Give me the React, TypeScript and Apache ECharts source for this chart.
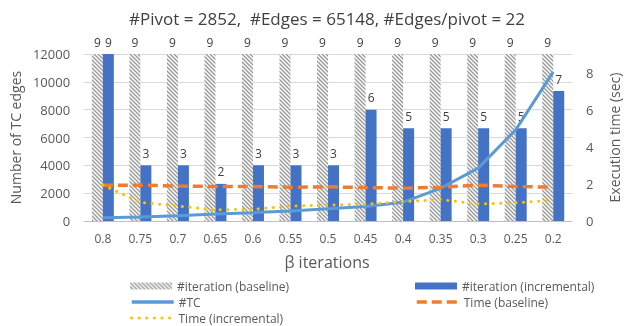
import React, { useEffect, useRef } from 'react';
import * as echarts from 'echarts';

const categories = ['0.8', '0.75', '0.7', '0.65', '0.6', '0.55', '0.5', '0.45', '0.4', '0.35', '0.3', '0.25', '0.2'];
const iterBaseline = [9, 9, 9, 9, 9, 9, 9, 9, 9, 9, 9, 9, 9];
const iterIncremental = [9, 3, 3, 2, 3, 3, 3, 6, 5, 5, 5, 5, 7];
const tcEdges = [240, 290, 380, 500, 600, 720, 880, 1050, 1350, 2350, 3800, 6550, 10720];
const timeBaseline = [1.93, 1.93, 1.88, 1.86, 1.86, 1.82, 1.84, 1.8, 1.77, 1.82, 1.93, 1.86, 1.82];
const timeIncremental = [1.95, 1.0, 0.8, 0.6, 0.63, 0.8, 0.86, 0.91, 1.04, 1.16, 0.91, 0.98, 1.12];
const leftTicks = [0, 12000, 2000];
const rightTicks = [0, 9, 2];

const TXT = '#595959';
const FONT = 'Open Sans';

function makeHatch(): HTMLCanvasElement {
  const c = document.createElement('canvas');
  const s = 4;
  c.width = s;
  c.height = s;
  const ctx = c.getContext('2d')!;
  ctx.fillStyle = '#ffffff';
  ctx.fillRect(0, 0, s, s);
  ctx.strokeStyle = '#9a9a9a';
  ctx.lineWidth = 1.4;
  for (let k = -2; k <= 2; k++) {
    ctx.beginPath();
    ctx.moveTo(-s, -s + k * s);
    ctx.lineTo(2 * s, 2 * s + k * s);
    ctx.stroke();
  }
  return c;
}

export default function App() {
  const ref = useRef<HTMLDivElement>(null);
  useEffect(() => {
    const chart = echarts.init(ref.current!, null, { renderer: 'svg' });
    const hatch = makeHatch();
    const legendBase = {
      itemWidth: 42,
      itemHeight: 7,
      itemGap: 4,
      textStyle: { color: TXT, fontSize: 12, fontFamily: FONT },
      selectedMode: false,
    };
    const barLegend = { ...legendBase, icon: 'rect' };
    const lineLegend = (w: number) => ({ ...legendBase, itemStyle: { opacity: 0 }, lineStyle: { width: w } });
    const labelStyle = { show: true, position: 'top', color: '#404040', fontSize: 12, distance: 6, fontFamily: FONT };
    chart.setOption({
      animation: false,
      textStyle: { fontFamily: FONT },
      title: [
        {
          text: '#Pivot = 2852,  #Edges = 65148, #Edges/pivot = 22',
          left: 322,
          top: 5,
          textAlign: 'center',
          textStyle: { fontSize: 17, fontWeight: 'normal', color: '#404040', fontFamily: FONT },
        },
        {
          text: 'β iterations',
          left: 322,
          top: 249,
          textAlign: 'center',
          textStyle: { fontSize: 16, fontWeight: 'normal', color: TXT, fontFamily: FONT },
        },
      ],
      legend: [
        { ...barLegend, left: 125, top: 275, data: ['#iteration (baseline)'] },
        { ...barLegend, left: 410, top: 275, data: ['#iteration (incremental)'] },
        { ...lineLegend(3.5), left: 125, top: 291, data: ['#TC'] },
        { ...lineLegend(3.5), left: 410, top: 291, data: ['Time (baseline)'] },
        { ...lineLegend(3), left: 125, top: 307, data: ['Time (incremental)'] },
      ],
      grid: { left: 84, right: 47, top: 54, bottom: 105 },
      xAxis: {
        type: 'category',
        data: categories,
        axisLine: { lineStyle: { color: '#bfbfbf' } },
        axisTick: { show: false },
        axisLabel: { color: TXT, fontSize: 12, margin: 11, fontFamily: FONT },
      },
      yAxis: [
        {
          type: 'value',
          min: leftTicks[0],
          max: leftTicks[1],
          interval: leftTicks[2],
          name: 'Number of TC edges',
          nameLocation: 'middle',
          nameGap: 53,
          nameTextStyle: { color: TXT, fontSize: 14, fontFamily: FONT },
          axisLabel: { color: TXT, fontSize: 13, margin: 14, fontFamily: FONT, formatter: (v: number) => String(v) },
          splitLine: { lineStyle: { color: '#d9d9d9' } },
          axisLine: { show: false },
          axisTick: { show: false },
        },
        {
          type: 'value',
          min: rightTicks[0],
          max: rightTicks[1],
          interval: rightTicks[2],
          position: 'right',
          name: 'Execution time (sec)',
          nameLocation: 'middle',
          nameGap: 35,
          nameTextStyle: { color: TXT, fontSize: 14, fontFamily: FONT },
          axisLabel: { color: TXT, fontSize: 13, margin: 14, showMaxLabel: false, fontFamily: FONT },
          splitLine: { show: false },
          axisLine: { show: false },
          axisTick: { show: false },
        },
        {
          type: 'value',
          min: 0,
          max: 9,
          show: false,
          splitLine: { show: false },
        },
      ],
      series: [
        {
          name: '#iteration (baseline)',
          type: 'bar',
          yAxisIndex: 2,
          data: iterBaseline,
          barWidth: 11,
          barGap: '0%',
          itemStyle: { color: { image: hatch, repeat: 'repeat' } },
          label: labelStyle,
        },
        {
          name: '#iteration (incremental)',
          type: 'bar',
          yAxisIndex: 2,
          data: iterIncremental,
          barWidth: 11,
          barGap: '0%',
          itemStyle: { color: '#4472C4' },
          label: labelStyle,
        },
        {
          name: '#TC',
          type: 'line',
          yAxisIndex: 0,
          data: tcEdges,
          symbol: 'none',
          lineStyle: { color: '#5B9BD5', width: 3 },
          itemStyle: { color: '#5B9BD5' },
        },
        {
          name: 'Time (baseline)',
          type: 'line',
          yAxisIndex: 1,
          data: timeBaseline,
          symbol: 'none',
          lineStyle: { color: '#ED7D31', width: 3.5, type: [10, 5] },
          itemStyle: { color: '#ED7D31' },
        },
        {
          name: 'Time (incremental)',
          type: 'line',
          yAxisIndex: 1,
          data: timeIncremental,
          symbol: 'none',
          lineStyle: { color: '#FFC000', width: 3, type: [0.1, 7.5], cap: 'round' },
          itemStyle: { color: '#FFC000' },
        },
      ],
    });
    return () => chart.dispose();
  }, []);
  return <div ref={ref} style={{ position: 'fixed', left: 0, top: 0, width: 629, height: 326 }} />;
}
